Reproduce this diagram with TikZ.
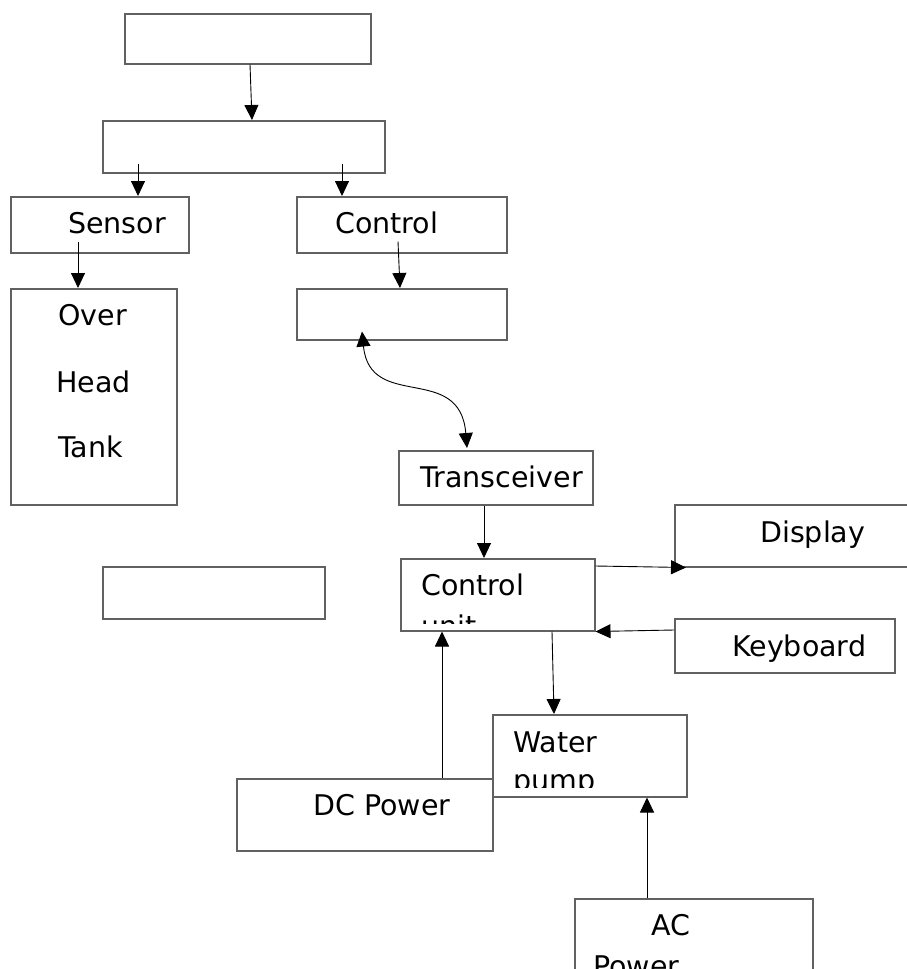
\documentclass[tikz,border=0pt]{standalone}
\usepackage{fontspec}
\setmainfont{DejaVu Sans}
\usetikzlibrary{arrows.meta,calc}
\tikzset{
  box/.style={draw=black!62, line width=1.5pt, fill=white, rectangle, inner sep=0pt, anchor=north west},
  txt/.style={inner sep=0pt, anchor=base west, font=\fontsize{28.5}{34}\selectfont},
  conn/.style={draw=black, line width=0.9pt, -{Triangle[length=15pt,width=14pt]}},
  dconn/.style={draw=black, line width=0.9pt, {Triangle[length=15pt,width=14pt]}-{Triangle[length=15pt,width=14pt]}}
}
\begin{document}
\begin{tikzpicture}[x=1pt,y=-1pt]
\useasboundingbox (0,0) rectangle (907,969);
\clip (0,0) rectangle (907,969);
% boxes
\node[box, minimum width=246pt, minimum height=50pt] (b1) at (124,13) {};
\node[box, minimum width=282pt, minimum height=52pt] (b2) at (102,120) {};
\node[box, minimum width=178pt, minimum height=56pt] (sensor) at (10,196) {};
\node[box, minimum width=210pt, minimum height=56pt] (control) at (296,196) {};
\node[box, minimum width=166pt, minimum height=216pt] (tank) at (10,288) {};
\node[box, minimum width=210pt, minimum height=51pt] (b6) at (296,288) {};
\node[box, minimum width=194pt, minimum height=54pt] (trans) at (398,450) {};
\node[box, minimum width=260pt, minimum height=62pt] (display) at (674,504) {};
\node[box, minimum width=222pt, minimum height=52pt] (empty) at (102,566) {};
\node[box, minimum width=194pt, minimum height=72pt] (cu) at (400,558) {};
\node[box, minimum width=220pt, minimum height=54pt] (keyboard) at (674,618) {};
\node[box, minimum width=194pt, minimum height=82pt] (wp) at (492,714) {};
\node[box, minimum width=256pt, minimum height=72pt] (dc) at (236,778) {};
\node[box, minimum width=238pt, minimum height=100pt] (ac) at (574,898) {};
% texts
\node[txt] (tsensor) at (68,233) {Sensor};
\node[txt] (tcontrol) at (335,233) {Control};
\node[txt] (tover) at (58,325) {Over};
\node[txt] (thead) at (56,392) {Head};
\node[txt] (ttank) at (58,457) {Tank};
\node[txt] (ttrans) at (420,487) {Transceiver};
\node[txt] (tdisplay) at (760,542) {Display};
\node[txt] (tkeyboard) at (732,656) {Keyboard};
\node[txt] (tdc) at (313,815) {DC Power};
\begin{scope}
\clip ($(cu.south west)+(0,-8)$) rectangle (cu.north east);
\node[txt] (tcu1) at (421,595) {Control};
\node[txt] (tcu2) at (421,636) {unit};
\end{scope}
\begin{scope}
\clip ($(wp.south west)+(0,-10)$) rectangle (wp.north east);
\node[txt] (twp1) at (513,752) {Water};
\node[txt] (twp2) at (513,790) {pump};
\end{scope}
\begin{scope}
\clip (ac.south west) rectangle (ac.north east);
\node[txt] (tac1) at (651,935) {AC};
\node[txt] (tac2) at (593,976) {Power};
\end{scope}
% connectors
\draw[conn] ($(b1.south west)+(126,0)$) -- ($(b2.north west)+(150,0)$);
\draw[conn] ($(b2.south west)+(36,-10)$) -- ($(sensor.north west)+(128,0)$);
\draw[conn] ($(b2.south west)+(240,-10)$) -- ($(control.north west)+(46,0)$);
\draw[conn] ($(sensor.south west)+(68,-12)$) -- ($(tank.north west)+(68,0)$);
\draw[conn] ($(control.south west)+(102,-12)$) -- ($(b6.north west)+(104,0)$);
\draw[dconn] ($(b6.south west)+(66,-9)$) .. controls (370,412) and (460,362) .. ($(trans.north west)+(69,-2)$);
\draw[conn] ($(trans.south west)+(86,0)$) -- ($(cu.north west)+(84,0)$);
\draw[conn] ($(cu.north east)+(0,8)$) -- ($(display.south west)+(12,0)$);
\draw[conn] ($(keyboard.north west)+(0,12)$) -- (cu.south east);
\draw[conn] ($(cu.south west)+(152,0)$) -- ($(wp.north west)+(62,0)$);
\draw[conn] ($(dc.north west)+(206,0)$) -- ($(cu.south west)+(42,0)$);
\draw[conn] ($(ac.north west)+(73,0)$) -- ($(wp.south west)+(155,0)$);
\end{tikzpicture}
\end{document}
